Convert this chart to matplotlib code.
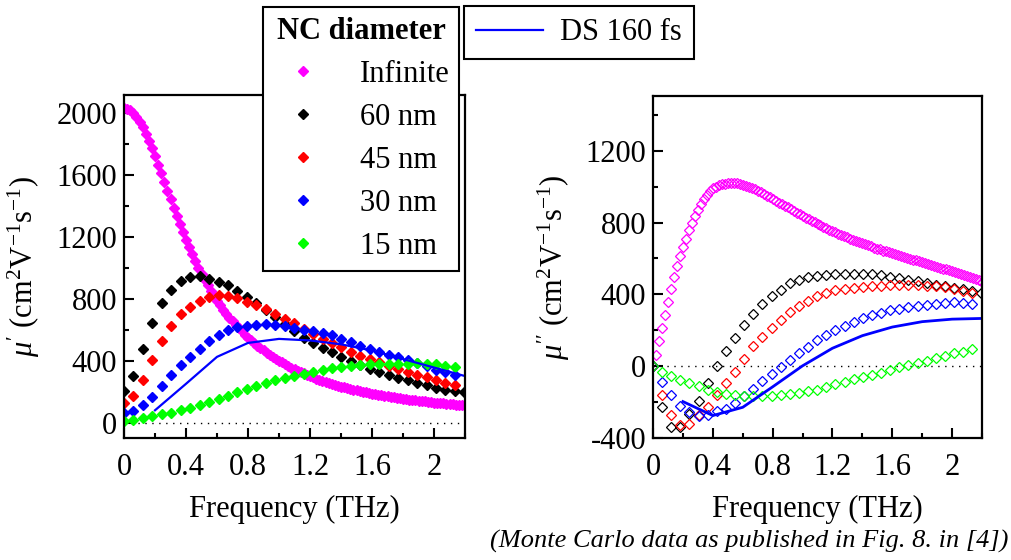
import numpy as np
import matplotlib
matplotlib.use("Agg")
import matplotlib.pyplot as plt
from matplotlib.ticker import MultipleLocator

plt.rcParams["font.family"] = ["Liberation Serif", "DejaVu Serif"]
plt.rcParams["mathtext.fontset"] = "custom"
plt.rcParams["mathtext.rm"] = "Liberation Serif"
plt.rcParams["mathtext.it"] = "Liberation Serif:italic"
plt.rcParams["axes.unicode_minus"] = False

# ---- data ----
# Monte Carlo NC series (THz grid of ~0.061)
freq_mc = np.round(np.arange(37) * 0.061, 3)
# infinite NC (dense, 0.02 THz grid)
freq_inf = np.round(np.arange(111) * 0.02, 2)
# DS 160 fs simulation
freq_ds = [0.2, 0.4, 0.6, 0.8, 1.0, 1.2, 1.4, 1.6, 1.8, 2.0, 2.2]

real_inf = [2030, 2026, 2015, 1997, 1973, 1942, 1906, 1865, 1819, 1770,
            1719, 1665, 1610, 1554, 1498, 1442, 1387, 1333, 1280, 1229,
            1180, 1132, 1086, 1042, 1000, 960, 922, 886, 851, 818,
            787, 757, 729, 702, 677, 653, 630, 608, 588, 568,
            549, 531, 514, 497, 481, 466, 452, 438, 425, 412,
            400, 388, 377, 366, 355, 345, 335, 326, 317, 308,
            300, 292, 284, 277, 270, 263, 256, 250, 244, 238,
            232, 227, 222, 217, 212, 207, 203, 198, 194, 190,
            186, 182, 179, 175, 172, 168, 165, 162, 159, 156,
            153, 150, 148, 145, 143, 140, 138, 136, 133, 131,
            129, 127, 125, 123, 121, 119, 117, 116, 114, 112, 110]
real_60 = [205, 300, 472, 645, 775, 857, 917, 941, 943, 928,
           910, 885, 852, 812, 770, 725, 680, 638, 594, 549,
           514, 484, 455, 424, 397, 370, 345, 323, 306, 290,
           276, 257, 241, 225, 210, 204, 198]
real_45 = [123, 170, 273, 403, 525, 622, 700, 747, 786, 812,
           826, 816, 801, 780, 762, 730, 703, 670, 640, 605,
           570, 540, 512, 485, 458, 432, 410, 390, 368, 348,
           328, 308, 291, 274, 258, 243]
real_30 = [60, 72, 112, 163, 238, 305, 369, 425, 475, 525,
           564, 595, 614, 625, 632, 633, 630, 622, 610, 600,
           590, 576, 562, 540, 520, 497, 476, 456, 436, 420,
           403, 383, 365, 342, 326, 308]
real_15 = [10, 15, 26, 41, 54, 64, 79, 94, 112, 133,
           155, 172, 194, 218, 236, 256, 273, 286, 302, 314,
           327, 341, 352, 360, 368, 374, 377, 377, 378, 380,
           381, 383, 381, 376, 368, 360]
real_ds = [79, 250, 424, 514, 540, 530, 505, 465, 410, 355, 300]

imag_inf = [0, 65, 142, 212, 284, 356, 428, 497, 560, 613,
            664, 710, 757, 798, 837, 872, 903, 930, 955, 974,
            990, 1000, 1008, 1013, 1017, 1019, 1020, 1020, 1019, 1016,
            1012, 1006, 999, 992, 985, 977, 968, 959, 950, 941,
            931, 921, 911, 902, 893, 884, 874, 865, 855, 846,
            837, 828, 819, 810, 801, 793, 785, 777, 769, 761,
            753, 746, 739, 731, 724, 717, 710, 703, 697, 691,
            685, 679, 673, 667, 661, 655, 650, 644, 639, 634,
            629, 624, 619, 614, 609, 604, 599, 594, 589, 584,
            579, 574, 569, 564, 559, 554, 549, 544, 539, 534,
            529, 524, 519, 514, 509, 503, 497, 491, 485, 478, 471]
imag_60 = [0, -228, -336, -336, -265, -195, -95, 0, 82, 158,
           228, 288, 345, 390, 427, 461, 479, 498, 501, 507,
           512, 514, 516, 516, 513, 506, 498, 490, 480, 472,
           464, 455, 446, 437, 428, 418, 408]
imag_45 = [0, -163, -274, -325, -321, -274, -225, -163, -94, -33,
           41, 110, 161, 210, 255, 300, 334, 362, 390, 410,
           422, 432, 438, 442, 445, 448, 450, 451, 451, 450,
           448, 445, 440, 432, 418, 405]
imag_30 = [0, -89, -159, -219, -256, -280, -274, -252, -238, -207,
           -165, -126, -83, -41, -4, 33, 71, 108, 145, 173,
           201, 223, 247, 266, 284, 297, 312, 321, 330, 338,
           342, 346, 352, 356, 350, 344]
imag_15 = [0, -31, -57, -75, -94, -113, -131, -141, -154, -159,
           -165, -168, -167, -165, -160, -154, -147, -140, -132, -117,
           -97, -87, -74, -63, -50, -37, -22, -7, 6, 15,
           30, 43, 56, 71, 80, 93]
imag_ds = [-197, -275, -229, -115, 2, 100, 170, 218, 248, 262, 266]

labels = ["Infinite", "60 nm", "45 nm", "30 nm", "15 nm"]
colors = ["#ff00ff", "#000000", "#ff0000", "#0000ff", "#00ff00"]

FS = 22

fig = plt.figure(figsize=(10.11, 5.6), dpi=100)
ax1 = fig.add_axes([124 / 1011, 122 / 560, 341 / 1011, 343 / 560])
ax2 = fig.add_axes([653 / 1011, 122 / 560, 329 / 1011, 342 / 560])

# left: real part, filled diamonds
real_sets = [(freq_inf, real_inf), (freq_mc, real_60), (freq_mc, real_45),
             (freq_mc, real_30), (freq_mc, real_15)]
handles = []
for (fx, fy), c, lab in zip(real_sets, colors, labels):
    h, = ax1.plot(fx[:len(fy)], fy, linestyle="none", marker="D", ms=5.2,
                  color=c, mec=c, label=lab)
    handles.append(h)
ds_line, = ax1.plot(freq_ds, real_ds, color="#0000ff", lw=1.6, label="DS 160 fs")

# right: imaginary part, hollow diamonds
imag_sets = [(freq_inf, imag_inf), (freq_mc, imag_60), (freq_mc, imag_45),
             (freq_mc, imag_30), (freq_mc, imag_15)]
for (fx, fy), c in zip(imag_sets, colors):
    ax2.plot(fx[:len(fy)], fy, linestyle="none", marker="D", ms=4.9,
             mfc="none", mec=c, mew=0.9)
ax2.plot(freq_ds, imag_ds, color="#0000ff", lw=2.0)

for ax in (ax1, ax2):
    ax.axhline(0, color="black", lw=1.0, ls=(0, (1, 4)), zorder=0)
    ax.set_xlim(0, 2.2)
    ax.xaxis.set_minor_locator(MultipleLocator(0.2))
    ax.yaxis.set_major_locator(MultipleLocator(400))
    ax.yaxis.set_minor_locator(MultipleLocator(200))
    ax.tick_params(which="both", direction="in", top=False, right=False,
                   labelsize=FS, width=1.5)
    ax.tick_params(which="major", length=7)
    ax.tick_params(which="minor", length=3.5)
    ax.tick_params(axis="x", which="major", pad=11)
    ax.tick_params(axis="y", which="major", pad=5)
    for s in ax.spines.values():
        s.set_linewidth(1.6)
    ax.set_xticks([0, 0.4, 0.8, 1.2, 1.6, 2.0])
    ax.set_xticklabels(["0", "0.4", "0.8", "1.2", "1.6", "2"])
    ax.set_xlabel("Frequency (THz)", fontsize=FS, labelpad=9)

ax1.set_ylim(-100, 2115)
ax2.set_ylim(-400, 1505)
ax1.set_ylabel(r"$\mu'$ (cm$^2$V$^{-1}$s$^{-1}$)", fontsize=FS)
ax2.set_ylabel(r"$\mu''$ (cm$^2$V$^{-1}$s$^{-1}$)", fontsize=FS)
ax1.yaxis.set_label_coords(-0.24, 0.5)
ax2.yaxis.set_label_coords(-0.245, 0.5)

leg1 = fig.legend(handles=handles, labels=labels, loc="upper left",
                  bbox_to_anchor=(263 / 1011, 1 - 7 / 560), borderaxespad=0,
                  title="NC diameter", fontsize=FS,
                  title_fontproperties={"weight": "bold", "size": FS},
                  frameon=True, fancybox=False, framealpha=1, edgecolor="black",
                  handlelength=2.0, handletextpad=0.85, labelspacing=0.46,
                  borderpad=0.32)
leg1.get_frame().set_linewidth(1.5)
leg2 = fig.legend(handles=[ds_line], labels=["DS 160 fs"], loc="upper left",
                  bbox_to_anchor=(464 / 1011, 1 - 6 / 560), borderaxespad=0,
                  fontsize=FS, frameon=True, fancybox=False, framealpha=1,
                  edgecolor="black", handlelength=2.2, handletextpad=0.55,
                  borderpad=0.4)
leg2.get_frame().set_linewidth(1.5)

fig.text(1008 / 1011, 1 - 541 / 560,
         "(Monte Carlo data as published in Fig. 8. in [4])",
         fontsize=19, style="italic", ha="right", va="center")

fig.savefig("out.png", dpi=100)
